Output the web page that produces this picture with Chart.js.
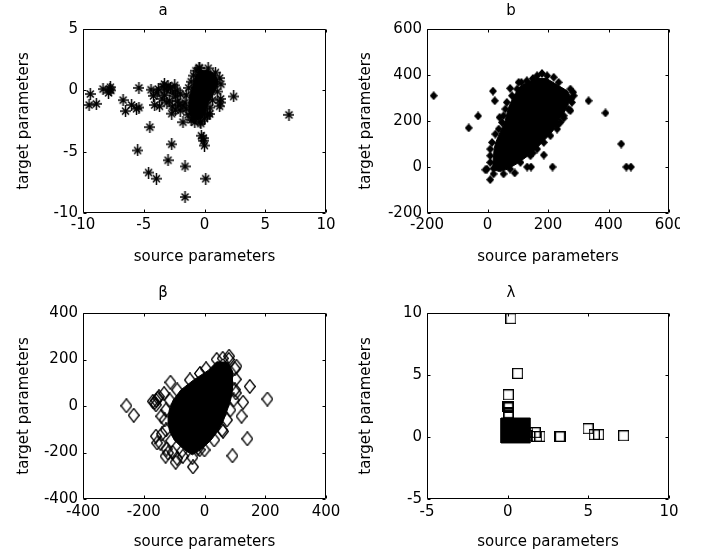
<!DOCTYPE html>
<html>
<head>
<meta charset="utf-8">
<script src="https://cdn.jsdelivr.net/npm/chart.js@4.4.1/dist/chart.umd.min.js"></script>
<style>
  html, body { margin: 0; padding: 0; background: #fff; overflow: hidden; }
  #fig { position: relative; width: 706px; height: 557px; overflow: hidden; background: #fff; }
  .cell { position: absolute; overflow: hidden; }
  canvas { display: block; }
</style>
</head>
<body>
<div id="fig">
  <div class="cell" style="left:0;top:0;width:409px;height:278px"><canvas id="chartA" width="409" height="278"></canvas></div>
  <div class="cell" style="left:353px;top:0;width:327px;height:278px"><canvas id="chartB" width="390" height="278"></canvas></div>
  <div class="cell" style="left:0;top:278px;width:409px;height:279px"><canvas id="chartBeta" width="409" height="279"></canvas></div>
  <div class="cell" style="left:353px;top:278px;width:327px;height:279px"><canvas id="chartLambda" width="390" height="279"></canvas></div>
</div>
<script>
// ---- data ----
const panelTitles = ['a', 'b', 'β', 'λ'];
const xLabel = 'source parameters';
const yLabel = 'target parameters';

// panel a : '*' markers
const aTicks = [-10, -5, 0, 5, 10];
const aTicksY = [-10, -5, 0, 5];
const aPoints = [
  [-9.4,-0.3],[-9.5,-1.2],[-8.9,-1.1],[-8.35,0.1],[-7.8,0.1],[-7.7,0.0],[-7.9,-0.2],[-7.75,0.25],
  [-6.7,-0.8],[-6.5,-1.7],[-6.0,-1.2],[-5.6,-1.5],[-5.4,-1.4],[-5.4,0.2],
  [-4.5,-3.0],[-5.5,-4.9],[-4.4,0.05],[-4.2,-0.45],[-4.1,-1.2],[-3.7,-1.3],
  [-3.3,0.5],[-3.1,0.0],[-3.3,-0.4],[-2.9,-0.85],[-2.7,-1.9],[-2.45,0.4],[-2.25,0.0],[-2.65,-1.3],
  [-3.4,0.3],[-3.0,0.35],[-2.8,0.2],[-2.6,-0.2],[-2.4,-0.5],[-2.2,-0.9],[-3.5,-0.7],[-3.1,-1.0],
  [-2.4,-1.6],[-2.1,-1.2],[-2.0,-0.3],[-3.9,-0.2],[-3.8,0.1],
  [-2.7,-4.4],[-3.0,-5.7],[-4.6,-6.7],[-3.96,-7.2],[-1.6,-6.2],[-1.6,-8.7],[0.1,-7.2],
  [-0.26,-3.7],[-0.07,-4.1],[0.0,-4.5],[-0.1,-3.9],
  [-1.77,-2.6],[-0.3,-2.7],[-0.95,-2.2],[0.23,-2.07],[0.43,-1.93],
  [1.3,-1.0],[1.25,-1.3],[1.33,-0.7],[2.4,-0.5],[6.95,-2.0],[-0.4,1.8],
  [-1.77,-1.25],[-2.0,-1.65],
  [-0.45,1.85],[0.3,1.8],[0.9,1.45],[1.25,1.0],[1.35,0.5],[1.05,-0.1],[0.65,-0.8],[0.45,-1.4],
  [0.25,-1.9],[0.0,-2.3],[-0.35,-2.55],[-0.8,-2.6],[-1.1,-2.4],[-1.35,-2.0],[-1.5,-1.5],
  [-1.6,-1.0],[-1.5,-0.4],[-1.3,0.2],[-1.1,0.7],[-0.9,1.2],[-0.7,1.6]
];
// outline of the saturated (solid black) part of the cloud
const aCore = [
  [-0.5,1.6],[0.3,1.65],[0.9,1.3],[1.1,0.8],[1.1,0.4],[0.8,-0.2],[0.4,-0.9],[0.2,-1.5],[0.0,-2.0],
  [-0.3,-2.4],[-0.9,-2.4],[-1.2,-2.0],[-1.3,-1.5],[-1.3,-1.0],[-1.2,-0.3],[-1.0,0.4],[-0.8,1.0],
  [-0.6,1.4],[-0.5,1.6]
];

// panel b : filled diamonds
const bTicks = [-200, 0, 200, 400, 600];
const bPoints = [
  [-178,310],[-62,170],[-31,222],[18,330],[24,288],[40,216],[75,342],[112,368],[180,407],[219,390],
  [334,288],[390,235],[442,100],[459,0],[474,0],[131,0],[144,0],[215,0],[150,61],[186,52],
  [9,-55],[-7,-12],[53,-30],[90,-26],[26,143],[283,325],[276,296],[274,245],[252,212],[230,180],[20,-6],
  [164,397],[197,397],[235,368],[274,339],[285,310],[279,281],[268,252],[252,223],[241,194],[230,165],
  [208,136],[186,107],[164,78],[142,49],[109,20],[75,-9],[20,-30],[-2,-9],[9,20],[9,49],[9,78],
  [15,107],[37,165],[48,194],[53,223],[59,252],[64,281],[81,310],[98,339],[103,368],[130,375],[150,385]
];
const bCore = [
  [165,385],[195,385],[232,356],[265,330],[274,305],[268,275],[258,247],[243,218],[230,188],[218,160],
  [198,130],[176,100],[155,72],[130,45],[98,15],[65,-10],[40,-20],[15,-10],[18,20],[20,50],[22,80],
  [28,110],[38,140],[48,170],[58,200],[64,230],[70,260],[80,290],[92,320],[108,350],[130,368],[165,385]
];

// panel beta : open diamonds
const betaTicks = [-400, -200, 0, 200, 400];
const betaPoints = [
  [-257,1],[-233,-40],[-112,102],[-133,53],[-159,24],[-164,15],[-153,34],[-170,20],[-160,5],[-150,40],
  [-156,-159],[-128,-216],[-120,-202],[-95,-242],[-38,-262],[-71,-216],[-16,-188],[81,214],[105,171],
  [149,84],[207,30],[127,16],[122,-44],[141,-141],[92,-214],[103,56],[61,-109],[-142,-44],
  [-160,-130],[-145,-160],[-125,-185],[-105,-200],[-90,-225],[-140,-120],[-21,-181],
  [40,200],[80,200],[100,160],[103,115],[100,70],[96,26],[85,-17],[74,-60],[58,-103],[32,-146],
  [0,-189],[-40,-222],[-75,-195],[-110,-150],[-127,-103],[-131,-60],[-127,-17],[-115,26],[-90,69],
  [-48,112],[5,160],[-15,140],[60,205]
];
const betaCore = [
  [40,190],[78,188],[92,150],[93,112],[91,69],[86,26],[75,-17],[63,-60],[47,-103],[22,-146],
  [-10,-186],[-40,-210],[-69,-186],[-100,-146],[-116,-103],[-120,-60],[-116,-17],[-103,26],
  [-78,69],[-36,112],[12,153],[40,190]
];

// panel lambda : open squares
const lambdaTicks = [-5, 0, 5, 10];
const lambdaPoints = [
  [0.2,9.55],[0.62,5.13],[0.04,3.4],[0.06,2.45],[0.04,2.35],[0.02,2.5],[0.08,2.4],[0.05,1.9],
  [0.03,1.95],[0.07,1.85],[0.05,1.75],
  [1.7,0.35],[1.8,0.05],[2.0,0.05],[3.22,0.05],[3.27,0.02],[4.98,0.67],[5.37,0.19],[5.64,0.19],[7.19,0.1],
  [-0.07,-0.04],[1.06,-0.04],[-0.07,1.09],[1.06,1.09],[0.5,1.09],[0.5,-0.04],[1.25,0.1],[1.25,0.4]
];
const lambdaCore = [[-0.41,-0.48],[1.4,-0.48],[1.4,1.53],[-0.41,1.53],[-0.41,-0.48]];

// ---- markers (MATLAB style) ----
function marker(w, h, draw) {
  const c = document.createElement('canvas');
  c.width = w; c.height = h;
  const g = c.getContext('2d');
  g.strokeStyle = '#000'; g.fillStyle = '#000';
  draw(g);
  return c;
}
const starMark = marker(11, 12, g => {
  g.lineWidth = 1.5;
  g.beginPath();
  g.moveTo(5.5, 0); g.lineTo(5.5, 12);
  g.moveTo(0, 6); g.lineTo(11, 6);
  g.stroke();
  g.lineWidth = 1.6;
  g.beginPath();
  g.moveTo(2, 2.5); g.lineTo(9, 9.5);
  g.moveTo(9, 2.5); g.lineTo(2, 9.5);
  g.stroke();
});
const solidDiamond = marker(8, 9, g => {
  g.beginPath();
  g.moveTo(4, 0); g.lineTo(8, 4.5); g.lineTo(4, 9); g.lineTo(0, 4.5);
  g.closePath(); g.fill();
});
const openDiamond = marker(12, 15, g => {
  g.lineWidth = 1.3;
  g.beginPath();
  g.moveTo(6, 0.7); g.lineTo(11.3, 7.5); g.lineTo(6, 14.3); g.lineTo(0.7, 7.5);
  g.closePath(); g.stroke();
});
const openSquare = marker(11, 11, g => {
  g.lineWidth = 1.2;
  g.strokeRect(0.6, 0.6, 9.8, 9.8);
});

// box round the axes with inward ticks on all four sides
const matlabBox = {
  id: 'matlabBox',
  afterDraw(chart) {
    const { ctx, chartArea: a } = chart;
    const xs = chart.scales.x, ys = chart.scales.y;
    const L = Math.floor(a.left) + 0.5, R = Math.ceil(a.right) - 0.5;
    const T = Math.floor(a.top) + 0.5, B = Math.ceil(a.bottom) - 0.5;
    ctx.save();
    ctx.strokeStyle = '#000';
    ctx.lineWidth = 1;
    ctx.beginPath();
    ctx.rect(L, T, R - L, B - T);
    xs.ticks.forEach(t => {
      const p = Math.round(xs.getPixelForValue(t.value)) + 0.5;
      ctx.moveTo(p, B); ctx.lineTo(p, B - 3);
      ctx.moveTo(p, T); ctx.lineTo(p, T + 3);
    });
    ys.ticks.forEach(t => {
      const p = Math.round(ys.getPixelForValue(t.value)) + 0.5;
      ctx.moveTo(L, p); ctx.lineTo(L + 3, p);
      ctx.moveTo(R, p); ctx.lineTo(R - 3, p);
    });
    ctx.stroke();
    ctx.restore();
  }
};

Chart.defaults.font.family = "'DejaVu Sans', sans-serif";
Chart.defaults.font.size = 15;
Chart.defaults.color = '#000';

function panel(id, p) {
  const font = { family: "'DejaVu Sans', sans-serif", size: 15, weight: 'normal' };
  return new Chart(document.getElementById(id), {
    type: 'scatter',
    data: {
      datasets: [
        { label: p.title, data: p.points, pointStyle: p.marker, pointRadius: p.r, pointHoverRadius: p.r, clip: false },
        { type: 'line', label: p.title + ' dense core', data: p.core, borderColor: '#000', borderWidth: 1,
          backgroundColor: '#000', fill: 'shape', pointRadius: 0, tension: 0 }
      ]
    },
    options: {
      responsive: false,
      animation: false,
      devicePixelRatio: 1,
      layout: { padding: { left: 0, right: p.padRight, top: 0, bottom: 0 } },
      plugins: {
        legend: { display: false },
        tooltip: { enabled: false },
        title: { display: true, text: p.title, font, color: '#000', padding: p.titlePad }
      },
      scales: {
        x: {
          type: 'linear', min: p.ticksX[0], max: p.ticksX[p.ticksX.length - 1],
          afterBuildTicks: s => { s.ticks = p.ticksX.map(v => ({ value: v })); },
          afterFit: s => { s.height = p.xHeight; s.paddingLeft = 0; s.paddingRight = 0; },
          grid: { display: false, drawTicks: false },
          border: { display: false },
          ticks: { font, color: '#000', padding: p.xTickPad, maxRotation: 0, autoSkip: false },
          title: { display: true, text: xLabel, font, color: '#000', padding: { top: 0, bottom: p.xTitlePad } }
        },
        y: {
          type: 'linear', min: p.ticksY[0], max: p.ticksY[p.ticksY.length - 1],
          afterBuildTicks: s => { s.ticks = p.ticksY.map(v => ({ value: v })); },
          afterFit: s => { s.width = p.yWidth; s.paddingTop = 0; s.paddingBottom = 0; },
          grid: { display: false, drawTicks: false },
          border: { display: false },
          ticks: { font, color: '#000', padding: 5, autoSkip: false },
          title: { display: true, text: yLabel, font, color: '#000', padding: { top: p.yTitlePad, bottom: 0 } }
        }
      }
    },
    plugins: [matlabBox]
  });
}

panel('chartA', {
  title: panelTitles[0], points: aPoints, core: aCore, marker: starMark, r: 5,
  ticksX: aTicks, ticksY: aTicksY, padRight: 83, yWidth: 83, xHeight: 65,
  titlePad: { top: 2, bottom: 9 }, xTickPad: 3.5, xTitlePad: 12, yTitlePad: 15
});
panel('chartB', {
  title: panelTitles[1], points: bPoints, core: bCore, marker: solidDiamond, r: 4,
  ticksX: bTicks, ticksY: bTicks, padRight: 74, yWidth: 74, xHeight: 65,
  titlePad: { top: 2, bottom: 9 }, xTickPad: 3.5, xTitlePad: 12, yTitlePad: 4
});
panel('chartBeta', {
  title: panelTitles[2], points: betaPoints, core: betaCore, marker: openDiamond, r: 7,
  ticksX: betaTicks, ticksY: betaTicks, padRight: 83, yWidth: 83, xHeight: 58,
  titlePad: { top: 6, bottom: 11 }, xTickPad: 4.5, xTitlePad: 6, yTitlePad: 15
});
panel('chartLambda', {
  title: panelTitles[3], points: lambdaPoints, core: lambdaCore, marker: openSquare, r: 6,
  ticksX: lambdaTicks, ticksY: lambdaTicks, padRight: 74, yWidth: 74, xHeight: 58,
  titlePad: { top: 6, bottom: 11 }, xTickPad: 4.5, xTitlePad: 6, yTitlePad: 4
});
</script>
</body>
</html>
